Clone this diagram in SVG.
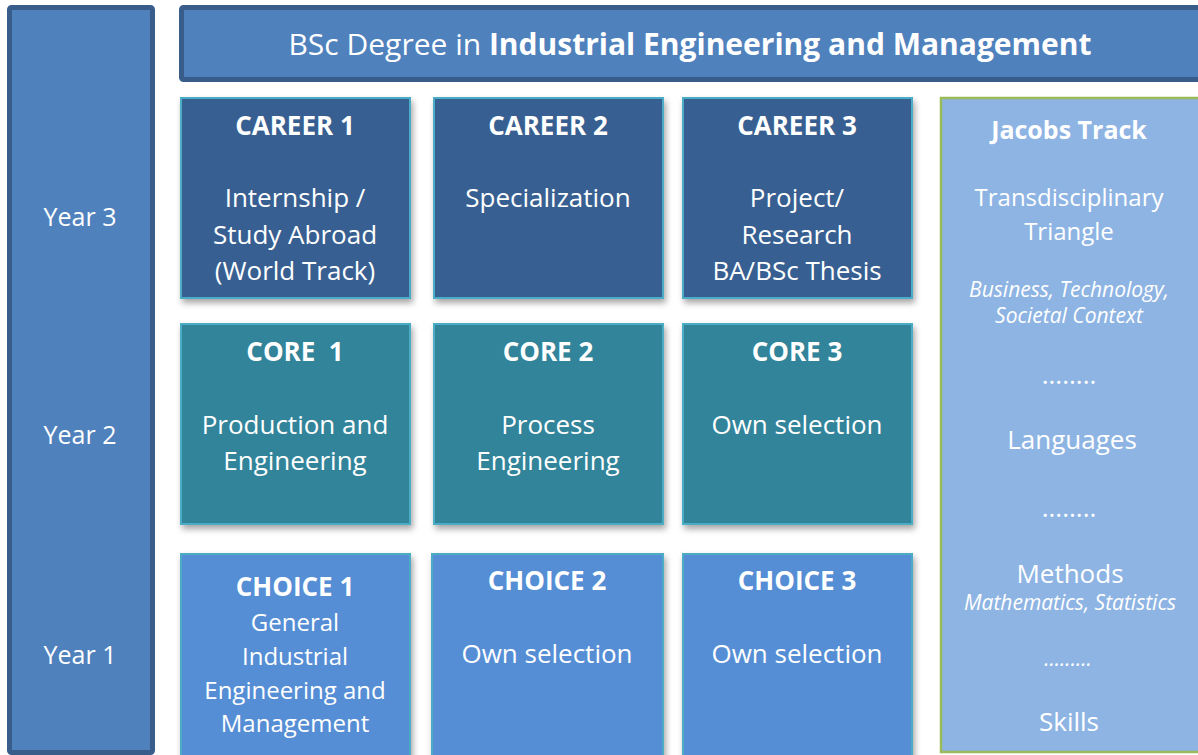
<svg xmlns="http://www.w3.org/2000/svg" width="1198" height="755" viewBox="0 0 1198 755">
<defs>
<filter id="sh" x="-10%" y="-10%" width="130%" height="130%">
<feDropShadow dx="2" dy="4" stdDeviation="3" flood-color="#000" flood-opacity="0.35"/>
</filter>
<style>
text{font-family:"Open Sans","Noto Sans","Liberation Sans",sans-serif;fill:#fff;text-anchor:middle}
.t{font-size:26px}
.s{font-size:24px}
.b{font-size:26px;font-weight:bold}
.i{font-size:21px;font-style:italic}
.y{font-size:25px}
.yr{fill:#4f81bd;stroke:#385d8a;stroke-width:5}
.car{fill:#375e91;stroke:#4bacc6;stroke-width:2}
.core{fill:#31849b;stroke:#4bacc6;stroke-width:2}
.cho{fill:#558ed5;stroke:#4bacc6;stroke-width:2}
.jac{fill:#8eb4e3;stroke:#9bbb59;stroke-width:2.5}
</style>
</defs>
<rect width="1198" height="755" fill="#fff"/>
<g id="years">
<rect class="yr" x="9.5" y="7.5" width="143" height="745" rx="2"/>
<text class="y" x="80" y="226">Year 3</text>
<text class="y" x="80" y="444">Year 2</text>
<text class="y" x="80" y="664">Year 1</text>
</g>
<g id="title">
<rect class="yr" x="181.5" y="7.5" width="1020" height="72" rx="2"/>
<text x="690" y="55" style="font-size:30px"><tspan>BSc Degree in </tspan><tspan font-weight="bold">Industrial Engineering and Management</tspan></text>
</g>
<g id="career1">
<rect class="car" x="181" y="98" width="229" height="200" filter="url(#sh)"/>
<text class="b" x="295" y="135">CAREER 1</text>
<text class="t" x="295" y="207">Internship /</text>
<text class="t" x="295" y="244">Study Abroad</text>
<text class="t" x="295" y="280">(World Track)</text>
</g>
<g id="career2">
<rect class="car" x="434" y="98" width="229" height="200" filter="url(#sh)"/>
<text class="b" x="548" y="135">CAREER 2</text>
<text class="t" x="548" y="207">Specialization</text>
</g>
<g id="career3">
<rect class="car" x="683" y="98" width="229" height="200" filter="url(#sh)"/>
<text class="b" x="797" y="135">CAREER 3</text>
<text class="t" x="797" y="207">Project/</text>
<text class="t" x="797" y="244">Research</text>
<text class="t" x="797" y="280">BA/BSc Thesis</text>
</g>
<g id="core1">
<rect class="core" x="181" y="324" width="229" height="200" filter="url(#sh)"/>
<text class="b" x="295" y="361" xml:space="preserve">CORE  1</text>
<text class="t" x="295" y="434">Production and</text>
<text class="t" x="295" y="470">Engineering</text>
</g>
<g id="core2">
<rect class="core" x="434" y="324" width="229" height="200" filter="url(#sh)"/>
<text class="b" x="548" y="361">CORE 2</text>
<text class="t" x="548" y="434">Process</text>
<text class="t" x="548" y="470">Engineering</text>
</g>
<g id="core3">
<rect class="core" x="683" y="324" width="229" height="200" filter="url(#sh)"/>
<text class="b" x="797" y="361">CORE 3</text>
<text class="t" x="797" y="434">Own selection</text>
</g>
<g id="choice1">
<rect class="cho" x="181" y="554" width="229" height="210" filter="url(#sh)"/>
<text class="b" x="295" y="596">CHOICE 1</text>
<text class="s" x="295" y="631">General</text>
<text class="s" x="295" y="665">Industrial</text>
<text class="s" x="295" y="699">Engineering and</text>
<text class="s" x="295" y="732">Management</text>
</g>
<g id="choice2">
<rect class="cho" x="432" y="554" width="231" height="210" filter="url(#sh)"/>
<text class="b" x="547" y="590">CHOICE 2</text>
<text class="t" x="547" y="663">Own selection</text>
</g>
<g id="choice3">
<rect class="cho" x="683" y="554" width="229" height="210" filter="url(#sh)"/>
<text class="b" x="797" y="590">CHOICE 3</text>
<text class="t" x="797" y="663">Own selection</text>
</g>
<g id="jacobs">
<rect class="jac" x="941" y="98" width="270" height="654"/>
<text class="b" x="1069" y="139" style="font-size:25px">Jacobs Track</text>
<text class="s" x="1069" y="206">Transdisciplinary</text>
<text class="s" x="1069" y="240">Triangle</text>
<text class="i" x="1069" y="297">Business, Technology,</text>
<text class="i" x="1069" y="323">Societal Context</text>
<text class="t" x="1069" y="384">........</text>
<text class="t" x="1072" y="449">Languages</text>
<text class="t" x="1069" y="517">........</text>
<text class="t" x="1070" y="583">Methods</text>
<text class="i" x="1070" y="610">Mathematics, Statistics</text>
<text class="i" x="1068" y="666">.........</text>
<text class="t" x="1069" y="731">Skills</text>
</g>
<g id="connectors"/>
</svg>
